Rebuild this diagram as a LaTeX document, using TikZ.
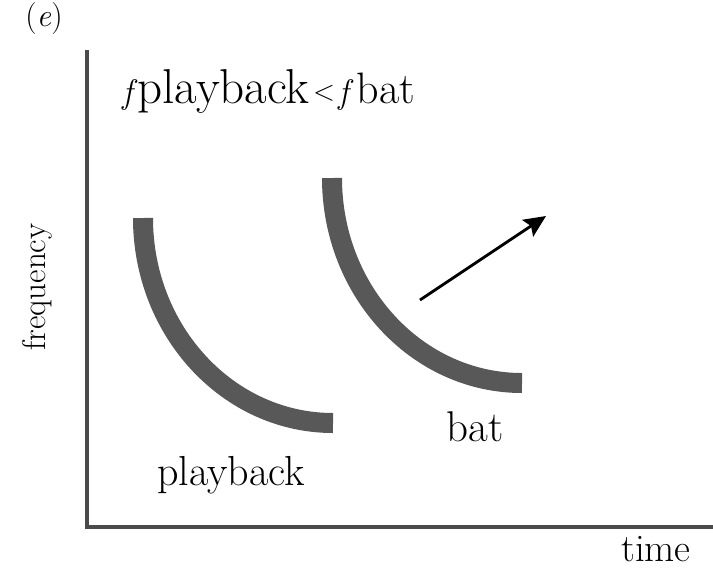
\documentclass[tikz,border=0pt]{standalone}
\usepackage{tikz}
\usetikzlibrary{arrows.meta}
\definecolor{sweepgray}{RGB}{88,88,88}
\definecolor{axgray}{RGB}{75,75,75}
\tikzset{
  sweep/.style={line width=10pt, sweepgray, line cap=butt},
  ax/.style={line width=2pt, axgray},
  shft/.style={-{Stealth[length=11pt,width=10pt,inset=2pt]}, line width=1.4pt, black},
  lbl/.style={inner sep=0pt, text=black},
}

\begin{document}
\begin{tikzpicture}[x=0.5pt,y=-0.5pt]
  \useasboundingbox (0,0) rectangle (713,570);
  % axes
  \coordinate (top) at (87,50);
  \coordinate (O) at (87,527);
  \coordinate (right) at (713,527);
  \draw[ax] (top) -- (O) -- (right);
  % playback and bat sweeps
  \coordinate (P1) at (143,218);
  \coordinate (P2) at (333,423);
  \draw[sweep] (P1) .. controls (143,331) and (228,423) .. (P2);
  \coordinate (B1) at (332,178);
  \coordinate (B2) at (522,383);
  \draw[sweep] (B1) .. controls (332,291) and (417,383) .. (B2);
  % shift arrow
  \coordinate (s0) at (420,300);
  \coordinate (s1) at (546,216);
  \draw[shft] (s0) -- (s1);
  % labels
  \node[lbl] (panel) at (44,19) {\fontsize{16}{16}\selectfont(\textit{e})};
  \node[lbl,anchor=base west] (cmp) at (122,103)
    {{\fontsize{17}{17}\selectfont\textit{f}}{\fontsize{24.5}{24.5}\selectfont playback}\,{\fontsize{14}{14}\selectfont\raisebox{1.5pt}{$<$}}\,{\fontsize{17}{17}\selectfont\textit{f}}\,{\fontsize{22}{22}\selectfont bat}};
  \node[lbl,rotate=90] (freq) at (37,287) {\fontsize{16.5}{16.5}\selectfont frequency};
  \node[lbl,anchor=base] (tm) at (656,561) {\fontsize{19.5}{19.5}\selectfont time};
  \node[lbl,anchor=base] (pb) at (231,485) {\fontsize{21}{21}\selectfont playback};
  \node[lbl,anchor=base] (bt) at (475,441) {\fontsize{21.5}{21.5}\selectfont bat};
\end{tikzpicture}
\end{document}
